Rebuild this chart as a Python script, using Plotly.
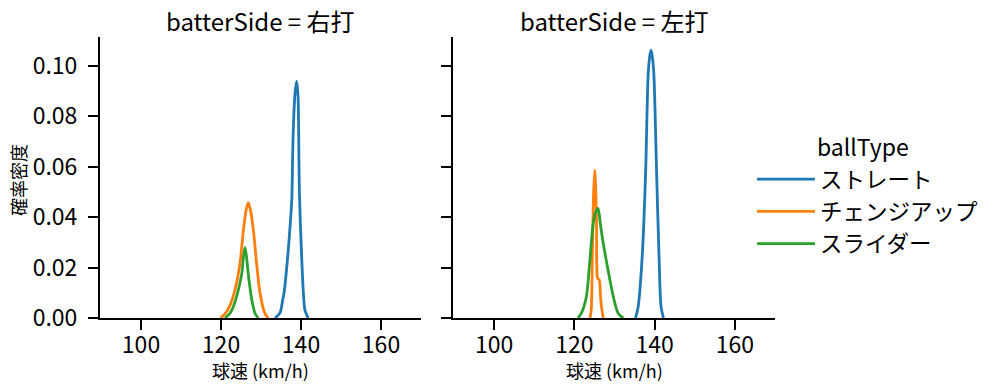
import plotly.graph_objects as go

# ---- data ----
ball_types = ["ストレート", "チェンジアップ", "スライダー"]
colors = ["#1f77b4", "#ff7f0e", "#2ca02c"]
facet_titles = ["batterSide = 右打", "batterSide = 左打"]
x_label = "球速 (km/h)"
y_label = "確率密度"
legend_title = "ballType"
x_ticks = [100, 120, 140, 160]
y_ticks = [0.00, 0.02, 0.04, 0.06, 0.08, 0.10]

# 右打 facet
R_straight_x = [133.5, 134.75, 135.4, 135.75, 136.6, 137.25, 137.7, 137.9, 138.1, 138.5, 138.9, 139.25, 139.4, 139.6, 140.2, 140.6, 141.0, 141.8]
R_straight_y = [0.0, 0.002, 0.007, 0.0098, 0.023, 0.036, 0.047, 0.063, 0.076, 0.089, 0.094, 0.0885, 0.076, 0.0496, 0.023, 0.0098, 0.003, 0.0]
R_change_x = [119.9, 121.4, 122.5, 123.5, 124.75, 125.6, 126.3, 126.8, 127.4, 128.1, 128.9, 129.75, 131.0, 131.8]
R_change_y = [0.0, 0.0025, 0.006, 0.0111, 0.0217, 0.0349, 0.0430, 0.0458, 0.0425, 0.0349, 0.0217, 0.0099, 0.0017, 0.0]
R_slider_x = [121.0, 122.25, 123.2, 123.9, 125.2, 125.6, 126.0, 126.4, 126.8, 127.7, 128.5, 129.3]
R_slider_y = [0.0, 0.0019, 0.005, 0.0085, 0.0177, 0.024, 0.0279, 0.024, 0.0177, 0.0072, 0.0019, 0.0]

# 左打 facet
L_straight_x = [135.25, 135.9, 136.9, 137.75, 138.4, 138.8, 139.1, 139.4, 139.8, 140.5, 141.1, 141.6, 142.2]
L_straight_y = [0.0, 0.0045, 0.0243, 0.0574, 0.097, 0.104, 0.1063, 0.104, 0.097, 0.0574, 0.0243, 0.0045, 0.0]
L_change_x = [123.9, 124.2, 124.5, 124.8, 125.1, 125.3, 125.5, 125.7, 125.9, 126.2, 126.5, 126.75, 127.2]
L_change_y = [0.0, 0.0032, 0.027, 0.050, 0.0587, 0.052, 0.0402, 0.0164, 0.0155, 0.0152, 0.009, 0.0045, 0.0]
L_slider_x = [120.9, 121.75, 123.0, 123.8, 124.7, 125.3, 125.9, 126.5, 127.2, 128.4, 129.7, 130.9, 132.2]
L_slider_y = [0.0, 0.0019, 0.0085, 0.0217, 0.0376, 0.042, 0.0435, 0.037, 0.0296, 0.019, 0.0085, 0.0019, 0.0]

facets = [
    [(R_straight_x, R_straight_y), (R_change_x, R_change_y), (R_slider_x, R_slider_y)],
    [(L_straight_x, L_straight_y), (L_change_x, L_change_y), (L_slider_x, L_slider_y)],
]

FONT = "Noto Sans CJK JP"
W, H = 999, 391
# plot-area pixel box in screen pixels (left, right, top, bottom)
PL, PR, PT, PB = 100, 775, 37, 318
PW, PH = PR - PL, PB - PT

fig = go.Figure()
for fi, curves in enumerate(facets):
    xa = "x" if fi == 0 else "x2"
    ya = "y" if fi == 0 else "y2"
    for ci, (xs, ys) in enumerate(curves):
        fig.add_trace(go.Scatter(
            x=xs, y=ys, mode="lines", xaxis=xa, yaxis=ya,
            name=ball_types[ci], legendgroup=ball_types[ci],
            showlegend=(fi == 0),
            line=dict(color=colors[ci], width=2.8, shape="spline", smoothing=0.8),
        ))

def px_x(p):  # screen pixel -> plot-area fraction (x)
    return (p - PL) / PW

def px_y(p):  # screen pixel -> plot-area fraction (y)
    return (PB - p) / PH

axis_common = dict(
    showline=True, linecolor="black", linewidth=2, mirror=False,
    ticks="outside", ticklen=10, tickwidth=2, tickcolor="black",
    showgrid=False, zeroline=False, automargin=False,
    tickfont=dict(family=FONT, size=23, color="black"),
)
xr = [89.75, 170]
yr = [0, 0.1115]

fig.update_layout(
    width=W, height=H,
    margin=dict(l=PL, r=W - PR, t=PT, b=H - PB, autoexpand=False),
    paper_bgcolor="white", plot_bgcolor="white",
    font=dict(family=FONT, color="black"),
    xaxis=dict(domain=[px_x(100), px_x(421)], range=xr, tickvals=x_ticks,
               anchor="y", ticklabelstandoff=-5, **axis_common),
    yaxis=dict(domain=[0, 1], range=yr, tickvals=y_ticks, tickformat=".2f",
               anchor="x", ticklabelstandoff=6, **axis_common),
    xaxis2=dict(domain=[px_x(453), px_x(775)], range=xr, tickvals=x_ticks,
                anchor="y2", ticklabelstandoff=-5, **axis_common),
    yaxis2=dict(domain=[0, 1], range=yr, tickvals=y_ticks, showticklabels=False,
                anchor="x2", **axis_common),
    legend=dict(
        x=px_x(752), y=px_y(158), xanchor="left", yanchor="top",
        font=dict(family=FONT, size=22.5), bgcolor="rgba(0,0,0,0)",
        tracegroupgap=0, itemwidth=58,
    ),
)

centers = [(100 + 421) / 2, (453 + 775) / 2]
for c, t in zip(centers, facet_titles):
    fig.add_annotation(text=t, x=px_x(c), y=px_y(21), xref="paper", yref="paper",
                       xanchor="center", yanchor="middle", showarrow=False,
                       font=dict(family=FONT, size=24, color="black"))
    fig.add_annotation(text=x_label, x=px_x(c), y=px_y(370), xref="paper", yref="paper",
                       xanchor="center", yanchor="middle", showarrow=False,
                       font=dict(family=FONT, size=18, color="black"))
fig.add_annotation(text=y_label, x=px_x(18), y=px_y(180), xref="paper", yref="paper",
                   xanchor="center", yanchor="middle", showarrow=False, textangle=-90,
                   font=dict(family=FONT, size=18, color="black"))
fig.add_annotation(text=legend_title, x=px_x(863), y=px_y(146), xref="paper", yref="paper",
                   xanchor="center", yanchor="middle", showarrow=False,
                   font=dict(family=FONT, size=23, color="black"))

fig.write_html("out.html", config={"displayModeBar": False},
               post_script="document.body.style.margin='0px';")
